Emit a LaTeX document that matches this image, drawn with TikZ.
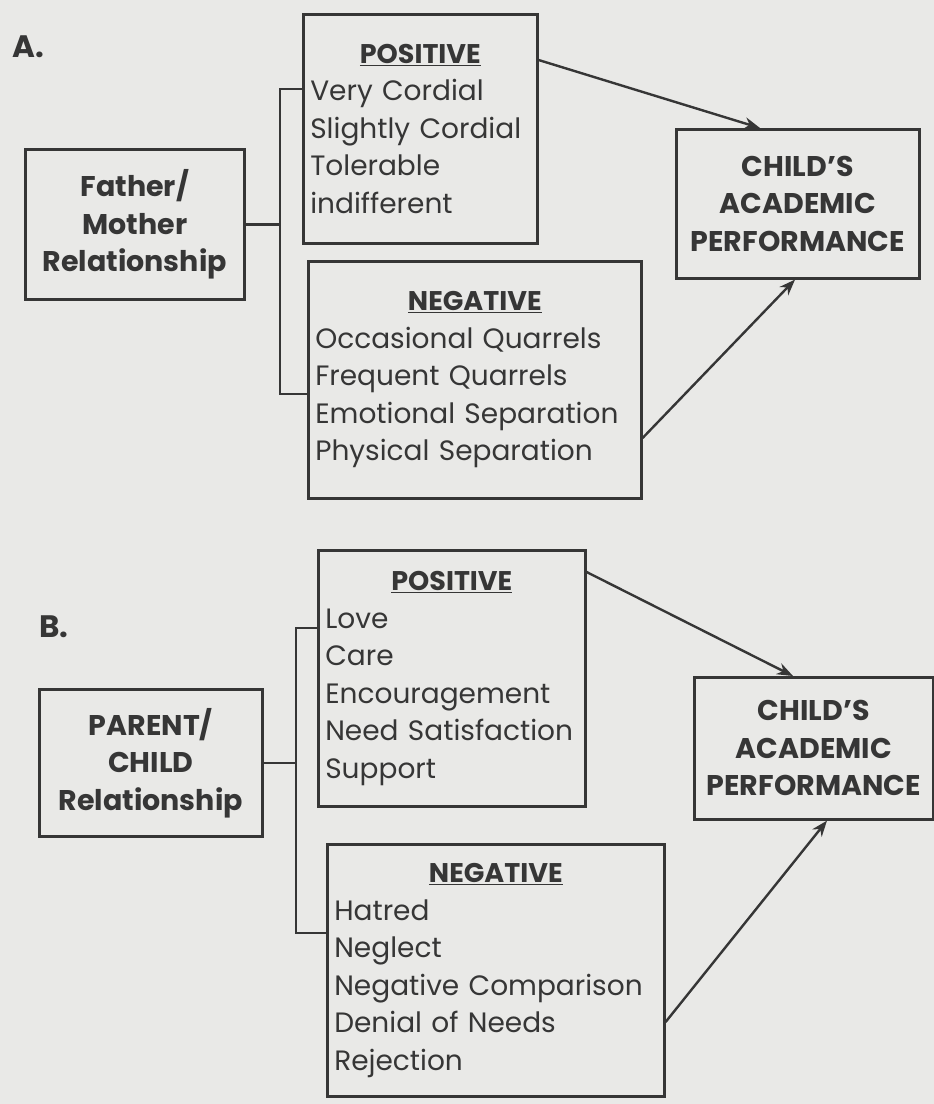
\documentclass[tikz,border=0pt]{standalone}
\usepackage{fontspec}
\setmainfont{Poppins}
\usepackage{xcolor}
\definecolor{mucden}{HTML}{363636}
\definecolor{giaynen}{HTML}{E9E9E7}
\def\mauvien{mucden}
\def\maunen{giaynen}
\usepackage{tikz}
\usetikzlibrary{calc,positioning,arrows.meta}
\newcommand{\boxhead}[1]{\underline{\fontsize{27}{30}\selectfont\bfseries #1}}

\begin{document}
\begin{tikzpicture}[x=1pt,y=-1pt,declare function={xA=280;xB=296;}]
		\tikzstyle{boxstyle} = [draw=\mauvien,line width=2.6pt,inner sep=0pt,text=\mauvien,anchor=north west]
		\tikzstyle{liststyle} = [boxstyle,inner xsep=7pt,font=\fontsize{28}{37.5}\selectfont]
		\tikzstyle{titlestyle} = [boxstyle,align=center,font=\fontsize{28.5}{37.5}\selectfont\bfseries]
		\tikzstyle{linkstyle} = [draw=\mauvien,line width=2.4pt]
		\tikzstyle{arrowstyle} = [linkstyle,-{Stealth[length=16pt,width=12pt]}]
		\fill[\maunen] (0,0) rectangle (934,1104);
		\useasboundingbox (0,0) rectangle (934,1104);
		% A.
		\node[text=\mauvien,font=\fontsize{31}{31}\selectfont\bfseries] (labelA) at (28,47) {A.};
		\node[titlestyle,minimum width=219pt,minimum height=150pt] (fmA) at (24,148) {Father/\\Mother\\Relationship};
		\node[liststyle,text width=220pt,minimum height=229pt] (posA) at (302,13)
		{{\centering\boxhead{POSITIVE}\par}Very Cordial\par Slightly Cordial\par Tolerable\par indifferent};
		\node[liststyle,text width=319pt,minimum height=237pt] (negA) at (307,260)
		{{\centering\boxhead{NEGATIVE}\par}Occasional Quarrels\par Frequent Quarrels\par Emotional Separation\par Physical Separation};
		\node[titlestyle,minimum width=243pt,minimum height=149pt] (childA) at (675,128) {CHILD’S\\ACADEMIC\\PERFORMANCE};
		\coordinate (nhanhA) at ({xA},89);
		\coordinate (nhanhA2) at ({xA},394);
		\draw[linkstyle] (fmA.east) -- (fmA.east -| nhanhA);
		\draw[linkstyle] (posA.west |- nhanhA) -- (nhanhA) -- (nhanhA2) -- (negA.west |- nhanhA2);
		\draw[arrowstyle] (posA.east |- 0,60) -- (childA.north -| 760,0);
		\draw[arrowstyle] (negA.east |- 0,438) -- (childA.south -| 795,0);
		% B.
		\node[text=\mauvien,font=\fontsize{31}{31}\selectfont\bfseries] (labelB) at (54,627) {B.};
		\node[titlestyle,minimum width=223pt,minimum height=147pt] (pcB) at (38,688) {PARENT/\\CHILD\\Relationship};
		\node[liststyle,text width=253pt,minimum height=256pt] (posB) at (317,549)
		{{\centering\boxhead{POSITIVE}\par}Love\par Care\par Encouragement\par Need Satisfaction\par Support};
		\node[liststyle,text width=323pt,minimum height=252pt] (negB) at (326,843)
		{{\centering\boxhead{NEGATIVE}\par}Hatred\par Neglect\par Negative Comparison\par Denial of Needs\par Rejection};
		\node[titlestyle,minimum width=239pt,minimum height=142pt] (childB) at (693,676) {CHILD’S\\ACADEMIC\\PERFORMANCE};
		\coordinate (nhanhB) at ({xB},628);
		\coordinate (nhanhB2) at ({xB},933);
		\draw[linkstyle] (pcB.east) -- (pcB.east -| nhanhB);
		\draw[linkstyle] (posB.west |- nhanhB) -- (nhanhB) -- (nhanhB2) -- (negB.west |- nhanhB2);
		\draw[arrowstyle] (posB.east |- 0,572) -- (childB.north -| 793,0);
		\draw[arrowstyle] (negB.east |- 0,1022) -- (childB.south -| 827,0);
	\end{tikzpicture}
\end{document}
